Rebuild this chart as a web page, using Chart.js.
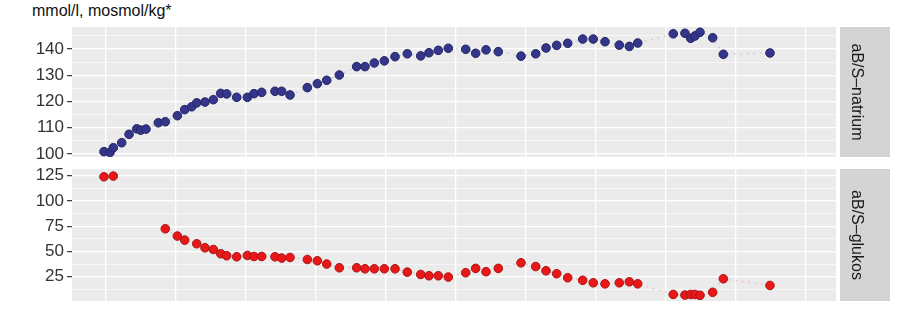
<!doctype html>
<html>
<head>
<meta charset="utf-8">
<title>aB/S-natrium och aB/S-glukos</title>
<script src="https://cdn.jsdelivr.net/npm/chart.js@4.4.1/dist/chart.umd.min.js"></script>
<style>
  * { margin: 0; padding: 0; box-sizing: border-box; }
  body { width: 900px; height: 309px; background: #fff; position: relative; overflow: hidden; font-family: "Liberation Sans", Arial, sans-serif; }
  #unit { position: absolute; left: 32px; top: 2px; font-size: 16px; color: #111; }
  canvas { position: absolute; left: 0; }
  #natriumCanvas { top: 0; }
  #glukosCanvas { top: 163px; }
</style>
</head>
<body>
<div id="unit">mmol/l, mosmol/kg*</div>
<canvas id="natriumCanvas" width="900" height="163"></canvas>
<canvas id="glukosCanvas" width="900" height="146"></canvas>
<script>
// provtagningstider (godtycklig tidsenhet, rutnät var 10:e)
const times = [-0.29, 0.57, 1.04, 2.24, 3.29, 4.39, 4.96, 5.71, 7.47, 8.47,
  10.19, 11.24, 12.24, 12.96, 14.14, 15.33, 16.39, 17.24, 18.67, 20.19,
  21.14, 22.24, 24.14, 25.1, 26.29, 28.76, 30.19, 31.53, 33.33, 35.81,
  37.0, 38.33, 39.76, 41.29, 43.04, 44.96, 46.14, 47.47, 48.9, 51.39,
  52.81, 54.29, 56.04, 59.29, 61.39, 62.86, 64.39, 65.96, 68.1, 69.61,
  71.29, 73.33, 74.76, 75.96, 81.04, 82.71, 83.53, 84.14, 84.86, 86.67,
  88.19, 94.86];

const natrium = [100.9, 100.6, 102.4, 104.3, 107.5, 109.6, 109.1, 109.5, 111.9, 112.3,
  114.6, 116.9, 118.0, 119.5, 119.8, 120.7, 123.1, 122.9, 121.6, 121.6,
  123.0, 123.5, 123.9, 123.9, 122.5, 125.3, 126.8, 128.1, 130.1, 133.3,
  133.3, 134.7, 135.5, 137.1, 138.2, 137.4, 138.6, 139.5, 140.3, 139.9,
  138.4, 139.7, 139.0, 137.3, 138.2, 140.4, 141.4, 142.2, 143.8, 143.8,
  142.8, 141.5, 141.0, 142.3, 145.8, 146.0, 144.1, 145.0, 146.4, 144.3,
  138.0, 138.5];

const glukos = [124.0, null, 124.7, null, null, null, null, null, null, 72.5,
  65.3, 61.3, null, 57.7, 53.7, 52.0, 47.8, 45.8, 44.8, 46.1,
  45.1, 45.1, 44.8, 43.5, 44.1, 42.1, 40.8, 37.6, 33.9, 33.9,
  32.9, 32.9, 32.9, 32.9, 29.6, 27.3, 26.0, 26.0, 24.7, 29.0,
  33.3, 30.0, 33.3, 38.8, 35.1, 30.9, 28.0, 24.0, 21.5, 19.0,
  18.0, 19.0, 20.0, 18.0, 7.5, 6.9, 7.5, 7.5, 6.6, 9.6,
  23.0, 16.4];

const xTicks = [0, 10, 20, 30, 40, 50, 60, 70, 80, 90, 100];
const natriumTicks = [100, 105, 110, 115, 120, 125, 130, 135, 140, 145];
const glukosTicks = [12.5, 25, 37.5, 50, 62.5, 75, 87.5, 100, 112.5, 125];

const FONT = '"Liberation Sans", Arial, sans-serif';

const panelPlugin = {
  id: 'panel',
  beforeDraw(chart) {
    const a = chart.chartArea;
    const ctx = chart.ctx;
    ctx.save();
    ctx.fillStyle = '#ebebeb';
    ctx.fillRect(a.left, a.top, a.right - a.left, a.bottom - a.top);
    ctx.restore();
  },
  afterDraw(chart, args, opts) {
    const a = chart.chartArea;
    const ctx = chart.ctx;
    ctx.save();
    ctx.fillStyle = '#d4d4d4';
    ctx.fillRect(840, a.top, 50, a.bottom - a.top);
    ctx.translate(856, (a.top + a.bottom) / 2);
    ctx.rotate(Math.PI / 2);
    ctx.fillStyle = '#1a1a1a';
    ctx.font = '16px ' + FONT;
    ctx.textAlign = 'center';
    ctx.textBaseline = 'middle';
    ctx.fillText(opts.label, 0, 0);
    ctx.restore();
  }
};

function makeChart(id, values, ticks, step, yMin, yMax, padding, fill, edge, lineColor, label) {
  const points = [];
  times.forEach((t, i) => { points.push({ x: t, y: values[i] }); });
  return new Chart(document.getElementById(id), {
    type: 'line',
    data: {
      datasets: [{
        data: points,
        spanGaps: false,
        borderColor: lineColor,
        borderWidth: 1.5,
        borderDash: [1.5, 5],
        pointRadius: 4.3,
        pointBackgroundColor: fill,
        pointBorderColor: edge,
        pointBorderWidth: 1
      }]
    },
    plugins: [panelPlugin],
    options: {
      responsive: false,
      animation: false,
      layout: { padding: padding },
      plugins: {
        legend: { display: false },
        tooltip: { enabled: false },
        panel: { label: label }
      },
      scales: {
        x: {
          type: 'linear',
          min: -4.86,
          max: 104.29,
          afterBuildTicks: s => { s.ticks = xTicks.map(v => ({ value: v })); },
          afterFit: s => { s.height = 0; s.paddingLeft = 0; s.paddingRight = 0; },
          border: { display: false },
          grid: { color: '#ffffff', lineWidth: 1.3, drawTicks: false },
          ticks: { display: false }
        },
        y: {
          min: yMin,
          max: yMax,
          afterBuildTicks: s => { s.ticks = ticks.map(v => ({ value: v })); },
          afterFit: s => { s.width = 72; s.paddingTop = 0; s.paddingBottom = 0; },
          border: { display: false },
          grid: {
            color: '#ffffff',
            lineWidth: c => (c.tick && c.tick.value % step === 0) ? 1.3 : 0.6,
            tickColor: c => (c.tick && c.tick.value % step === 0) ? '#333333' : 'rgba(0,0,0,0)',
            tickWidth: 1.2,
            tickLength: 5
          },
          ticks: {
            autoSkip: false,
            padding: 3,
            color: '#333333',
            font: { family: FONT, size: 17 },
            callback: v => (v % step === 0) ? v : ''
          }
        }
      }
    }
  });
}

makeChart('natriumCanvas', natrium, natriumTicks, 10, 98.86, 148.4,
  { top: 27, right: 64, bottom: 6, left: 0 },
  'rgb(52,54,140)', 'rgb(36,36,100)', 'rgba(140,140,200,0.4)', 'aB/S\u2013natrium');

makeChart('glukosCanvas', glukos, glukosTicks, 25, 1, 131.7,
  { top: 6, right: 64, bottom: 8, left: 0 },
  'rgb(232,24,24)', 'rgb(170,20,20)', 'rgba(235,120,120,0.4)', 'aB/S\u2013glukos');
</script>
</body>
</html>
